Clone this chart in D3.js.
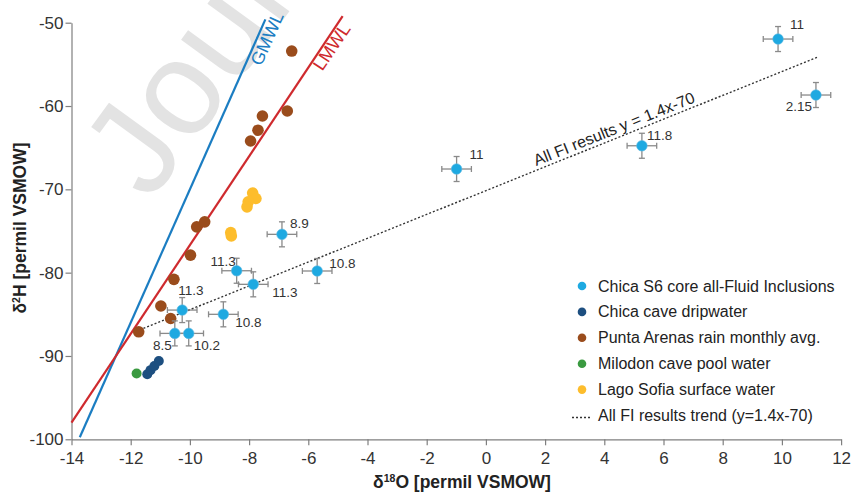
<!DOCTYPE html>
<html>
<head>
<meta charset="utf-8">
<script src="https://cdn.jsdelivr.net/npm/d3@7"></script>
<style>
  html, body { margin: 0; padding: 0; background: #fff; }
  svg { display: block; font-family: "Liberation Sans", Arial, sans-serif; }
</style>
</head>
<body>
<svg id="chart" width="852" height="493"></svg>
<script>
// ---------------- DATA ----------------
const xTicks = [-14, -12, -10, -8, -6, -4, -2, 0, 2, 4, 6, 8, 10, 12];
const yTicks = [-50, -60, -70, -80, -90, -100];

// Chica S6 core all-Fluid Inclusions
const fiX     = [9.87, 11.15, 5.27, -0.99, -6.89, -5.70, -8.42, -7.86, -10.26, -8.87, -10.51, -10.04];
const fiY     = [-51.96, -58.68, -64.77, -67.56, -75.4, -79.8, -79.77, -81.4, -84.49, -85.0, -87.29, -87.29];
const fiXErr  = [0.5, 0.5, 0.5, 0.5, 0.5, 0.5, 0.5, 0.5, 0.5, 0.5, 0.5, 0.5];
const fiYErr  = [1.5, 1.5, 1.5, 1.5, 1.5, 1.5, 1.5, 1.5, 1.5, 1.5, 1.5, 1.5];
const fiLabel = ["11", "2.15", "11.8", "11", "8.9", "10.8", "11.3", "11.3", "11.3", "10.8", "8.5", "10.2"];

// Chica cave dripwater
const dripX = [-11.44, -11.33, -11.2, -11.05];
const dripY = [-92.2, -91.7, -91.2, -90.6];

// Punta Arenas rain monthly avg.
const rainX = [-6.56, -6.71, -7.55, -7.70, -7.95, -9.77, -9.50, -9.98, -10.54, -10.98, -10.65, -11.73];
const rainY = [-53.4, -60.6, -61.2, -62.9, -64.2, -74.5, -73.9, -77.9, -80.8, -84.0, -85.5, -87.1];

// Milodon cave pool water
const poolX = [-11.8];
const poolY = [-92.1];

// Lago Sofia surface water
const lakeX = [-7.88, -7.77, -8.03, -8.07, -8.62, -8.60];
const lakeY = [-70.45, -71.1, -71.5, -72.1, -75.2, -75.6];

// Lines (endpoints)
const gmwlX = [-13.72, -7.45];
const gmwlY = [-99.76, -49.6];
const lmwlX = [-14, -4.84];
const lmwlY = [-98.0, -49.2];
const trendX = [-11.57, 11.2];
const trendY = [-86.69, -54.15];

const legendLabels = [
  "Chica S6 core all-Fluid Inclusions",
  "Chica cave dripwater",
  "Punta Arenas rain monthly avg.",
  "Milodon cave pool water",
  "Lago Sofia surface water",
  "All FI results trend (y=1.4x-70)"
];

// ---------------- STYLE / LAYOUT ----------------
const C = {
  fi: "#1ea9e1", drip: "#1d4f80", rain: "#9a4c1c", pool: "#3a9a40", lake: "#fdbd2c",
  gmwl: "#1b7dc2", lmwl: "#cf2a2e", axis: "#7f7f7f", err: "#8a8a8a", text: "#222"
};
// label placement relative to the point: [dx, dy, anchor]
const fiLabelPos = [
  [12, -10, "start"], [-4, 16, "end"], [5, -6, "start"], [13, -10, "start"],
  [8, -6, "start"], [12, -3, "start"], [-1, -5, "end"], [19, 13, "start"],
  [-4, -15, "start"], [12, 13, "start"], [-3, 17, "end"], [5, 17, "start"]
];

const svg = d3.select("#chart");
const x = d3.scaleLinear().domain([-14, 12]).range([71.5, 841.1]);
const y = d3.scaleLinear().domain([-100, -50]).range([439.3, 22.7]);

// watermark
svg.append("text")
  .attr("transform", "translate(150,203) rotate(-54)")
  .attr("font-size", 134)
  .attr("fill", "#e3e3e3")
  .text("Journal Pre-proof");

// axes
const xAxis = svg.append("g")
  .attr("transform", `translate(0,${y(-100)})`)
  .call(d3.axisBottom(x).tickValues(xTicks).tickSize(6).tickSizeOuter(0).tickPadding(7).tickFormat(d3.format("d")));
const yAxis = svg.append("g")
  .attr("transform", `translate(${x(-14)},0)`)
  .call(d3.axisLeft(y).tickValues(yTicks).tickSize(6).tickSizeOuter(0).tickPadding(2).tickFormat(d3.format("d")));
[xAxis, yAxis].forEach(g => {
  g.selectAll("path, line").attr("stroke", C.axis).attr("stroke-width", 1.2);
  g.selectAll("text").attr("font-size", 17).attr("fill", "#333")
    .attr("font-family", "'Liberation Sans', Arial, sans-serif");
});
xAxis.selectAll("text").text(d => d < 0 ? "-" + Math.abs(d) : d);
yAxis.selectAll("text").text(d => "-" + Math.abs(d));

// axis titles
svg.append("text")
  .attr("x", 462).attr("y", 488)
  .attr("text-anchor", "middle").attr("font-size", 17.5).attr("font-weight", "bold").attr("fill", "#222")
  .call(t => {
    t.append("tspan").text("δ");
    t.append("tspan").attr("font-size", 10.5).attr("dy", -6.5).text("18");
    t.append("tspan").attr("dy", 6.5).text("O [permil VSMOW]");
  });
svg.append("text")
  .attr("transform", "translate(26,228) rotate(-90)")
  .attr("text-anchor", "middle").attr("font-size", 17.5).attr("font-weight", "bold").attr("fill", "#222")
  .call(t => {
    t.append("tspan").text("δ");
    t.append("tspan").attr("font-size", 10.5).attr("dy", -6.5).text("2");
    t.append("tspan").attr("dy", 6.5).text("H [permil VSMOW]");
  });

const line = d3.line().x(d => x(d[0])).y(d => y(d[1]));

// meteoric water lines
svg.append("path").datum(d3.zip(gmwlX, gmwlY)).attr("d", line)
  .attr("stroke", C.gmwl).attr("stroke-width", 2.2).attr("fill", "none");
svg.append("path").datum(d3.zip(lmwlX, lmwlY)).attr("d", line)
  .attr("stroke", C.lmwl).attr("stroke-width", 2.2).attr("fill", "none");

function angleOf(xs, ys) {
  return Math.atan2(y(ys[1]) - y(ys[0]), x(xs[1]) - x(xs[0])) * 180 / Math.PI;
}
svg.append("text")
  .attr("transform", `translate(${x(-8.16) + 17},${y(-55.3)}) rotate(${angleOf(gmwlX, gmwlY)})`)
  .attr("font-size", 18).attr("fill", C.gmwl).text("GMWL");
svg.append("text")
  .attr("transform", `translate(${x(-6.1) + 17},${y(-55.9)}) rotate(${angleOf(lmwlX, lmwlY)})`)
  .attr("font-size", 18).attr("fill", C.lmwl).text("LMWL");

// trend line
svg.append("path").datum(d3.zip(trendX, trendY)).attr("d", line)
  .attr("stroke", "#333").attr("stroke-width", 1.4).attr("stroke-dasharray", "2,2").attr("fill", "none");
const tAng = angleOf(trendX, trendY);
svg.append("text")
  .attr("transform", `translate(${x(4.4)},${y(1.4 * 4.4 - 70) - 4}) rotate(${tAng})`)
  .attr("text-anchor", "middle").attr("font-size", 16).attr("fill", "#222")
  .text("All FI results y = 1.4x-70");

// scatter groups
function dots(xs, ys, color, r) {
  svg.append("g").selectAll("circle").data(d3.zip(xs, ys)).join("circle")
    .attr("cx", d => x(d[0])).attr("cy", d => y(d[1])).attr("r", r).attr("fill", color);
}
dots(rainX, rainY, C.rain, 5.8);
dots(lakeX, lakeY, C.lake, 5.8);
dots(dripX, dripY, C.drip, 5);
dots(poolX, poolY, C.pool, 5);

// fluid inclusions with error bars
const fi = fiX.map((v, i) => ({ x: v, y: fiY[i], ex: fiXErr[i], ey: fiYErr[i], lab: fiLabel[i], pos: fiLabelPos[i] }));
const fg = svg.append("g");
const eb = fg.selectAll("g.eb").data(fi).join("g").attr("class", "eb")
  .attr("stroke", C.err).attr("stroke-width", 1.3);
eb.append("line").attr("x1", d => x(d.x - d.ex)).attr("x2", d => x(d.x + d.ex)).attr("y1", d => y(d.y)).attr("y2", d => y(d.y));
eb.append("line").attr("x1", d => x(d.x)).attr("x2", d => x(d.x)).attr("y1", d => y(d.y - d.ey)).attr("y2", d => y(d.y + d.ey));
[-1, 1].forEach(s => {
  eb.append("line").attr("x1", d => x(d.x + s * d.ex)).attr("x2", d => x(d.x + s * d.ex))
    .attr("y1", d => y(d.y) - 3).attr("y2", d => y(d.y) + 3);
  eb.append("line").attr("y1", d => y(d.y + s * d.ey)).attr("y2", d => y(d.y + s * d.ey))
    .attr("x1", d => x(d.x) - 3).attr("x2", d => x(d.x) + 3);
});
fg.selectAll("circle").data(fi).join("circle")
  .attr("cx", d => x(d.x)).attr("cy", d => y(d.y)).attr("r", 5.3)
  .attr("fill", C.fi).attr("stroke", "#5fb8e0").attr("stroke-width", 0.6);
fg.selectAll("text").data(fi).join("text")
  .attr("x", d => x(d.x) + d.pos[0]).attr("y", d => y(d.y) + d.pos[1])
  .attr("text-anchor", d => d.pos[2]).attr("font-size", 13.5).attr("fill", "#333")
  .text(d => d.lab);

// legend
const legColors = [C.fi, C.drip, C.rain, C.pool, C.lake, null];
const lg = svg.append("g").attr("transform", "translate(582,286)");
legendLabels.forEach((lab, i) => {
  const row = lg.append("g").attr("transform", `translate(0,${i * 25.9})`);
  if (legColors[i]) {
    row.append("circle").attr("r", 4.3).attr("fill", legColors[i]);
  } else {
    row.append("line").attr("x1", -10).attr("x2", 9).attr("y1", 2).attr("y2", 2)
      .attr("stroke", "#333").attr("stroke-width", 1.4).attr("stroke-dasharray", "2,2");
  }
  row.append("text").attr("x", 16).attr("y", 5.5).attr("font-size", 16).attr("fill", "#222").text(lab);
});
</script>
</body>
</html>
